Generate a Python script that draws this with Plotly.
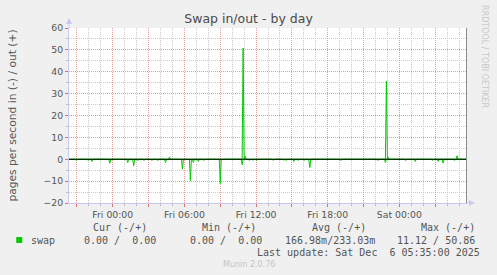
import plotly.graph_objects as go
import pandas as pd

# ---- data (5-minute samples, Munin "swap" day graph) ----
series_start = "2025-12-04 20:20"
n_samples = 400
# swap out (+) spikes: timestamp -> pages/s
out_times = ["2025-12-05 04:45", "2025-12-05 10:55", "2025-12-05 11:05",
             "2025-12-05 22:55", "2025-12-05 23:05", "2025-12-06 04:50"]
out_values = [1.0, 50.86, 1.5, 35.7, 1.0, 1.6]
# swap in (-) spikes: timestamp -> pages/s (plotted negative)
in_times = ["2025-12-04 20:55", "2025-12-04 21:55", "2025-12-04 22:15", "2025-12-04 23:45",
            "2025-12-05 01:15", "2025-12-05 01:45", "2025-12-05 02:05", "2025-12-05 02:35",
            "2025-12-05 03:15", "2025-12-05 03:45", "2025-12-05 04:25", "2025-12-05 05:50",
            "2025-12-05 06:30", "2025-12-05 06:45", "2025-12-05 07:10", "2025-12-05 07:35",
            "2025-12-05 09:00", "2025-12-05 10:50", "2025-12-05 11:25", "2025-12-05 11:45",
            "2025-12-05 12:00", "2025-12-05 13:25", "2025-12-05 14:20", "2025-12-05 14:30",
            "2025-12-05 15:10", "2025-12-05 15:30", "2025-12-05 16:00", "2025-12-05 16:30",
            "2025-12-05 19:05", "2025-12-05 20:35", "2025-12-05 21:00", "2025-12-05 22:10",
            "2025-12-05 22:50", "2025-12-06 00:30", "2025-12-06 01:20", "2025-12-06 02:45",
            "2025-12-06 03:15", "2025-12-06 03:40", "2025-12-06 04:35"]
in_values = [0.5, 0.5, 1.0, 1.8, 1.5, 3.0, 0.5, 0.5, 0.5, 0.5, 1.5, 4.5,
             9.8, 1.5, 1.0, 0.5, 11.12, 2.5, 0.5, 0.5, 0.5, 0.5, 0.5, 0.5,
             1.0, 0.5, 0.5, 3.8, 0.5, 0.3, 0.3, 0.5, 1.5, 0.5, 1.0, 0.5,
             1.0, 1.8, 0.5]

tick_vals = ["2025-12-04 21:00", "2025-12-05 00:00", "2025-12-05 03:00", "2025-12-05 06:00",
             "2025-12-05 09:00", "2025-12-05 12:00", "2025-12-05 15:00", "2025-12-05 18:00",
             "2025-12-05 21:00", "2025-12-06 00:00", "2025-12-06 03:00"]
tick_text = ["", "Fri 00:00", "", "Fri 06:00", "", "Fri 12:00", "", "Fri 18:00", "",
             "Sat 00:00", ""]
y_ticks = [-20, -10, 0, 10, 20, 30, 40, 50, 60]

legend_headers = ["Cur (-/+)", "Min (-/+)", "Avg (-/+)", "Max (-/+)"]
legend_values = ["0.00 /  0.00", "0.00 /  0.00", "166.98m/233.03m", "11.12 / 50.86"]

# ---- build series ----
idx = pd.date_range(series_start, periods=n_samples, freq="5min")
out_s = pd.Series(0.0, index=idx)
in_s = pd.Series(0.0, index=idx)
for t, v in zip(out_times, out_values):
    out_s[pd.Timestamp(t)] = v
for t, v in zip(in_times, in_values):
    in_s[pd.Timestamp(t)] = v

GREEN = "#00CC00"
fig = go.Figure()
fig.add_trace(go.Scatter(x=idx, y=-in_s.values, mode="lines",
                         line=dict(color=GREEN, width=1), hoverinfo="skip", showlegend=False))
fig.add_trace(go.Scatter(x=idx, y=out_s.values, mode="lines",
                         line=dict(color=GREEN, width=1), hoverinfo="skip", showlegend=False))

MAJ = "#E89A9A"
MIN = "#CACACA"
TXT = "#555555"
FONT = "DejaVu Sans"
MONO = "DejaVu Sans Mono"

fig.update_layout(
    width=497, height=275,
    margin=dict(l=67, r=30, t=28, b=72),
    paper_bgcolor="#F0F0F0", plot_bgcolor="#FFFFFF",
    font=dict(family=FONT, size=9.3, color=TXT),
    title=dict(text="Swap in/out - by day", x=0.5, xanchor="center", y=1 - 19 / 275,
               yanchor="middle", font=dict(family=FONT, size=12.5, color="#4A4A4A")),
    xaxis=dict(type="date", range=["2025-12-04 20:20", "2025-12-06 05:40"],
               tickmode="array", tickvals=tick_vals, ticktext=tick_text,
               showgrid=True, gridcolor=MAJ, griddash="1px,1px", gridwidth=1,
               ticks="outside", ticklen=3, tickcolor="#E07070",
               showline=True, linecolor="#C8C8F0", linewidth=1,
               zeroline=False, tickfont=dict(size=9.3, color=TXT),
               minor=dict(dtick=3600000, showgrid=True, gridcolor=MIN, griddash="1px,1px",
                          ticks="outside", ticklen=2, tickcolor="#BBBBBB"),
               fixedrange=True),
    yaxis=dict(range=[-20, 60], tickmode="array", tickvals=y_ticks,
               showgrid=True, gridcolor=MAJ, griddash="1px,1px", gridwidth=1,
               ticks="outside", ticklen=3, tickcolor="#E07070",
               showline=True, linecolor="#C8C8F0", linewidth=1,
               zeroline=False, tickfont=dict(size=9.3, color=TXT),
               minor=dict(dtick=5, showgrid=True, gridcolor=MIN, griddash="1px,1px",
                          ticks="outside", ticklen=2, tickcolor="#BBBBBB"),
               title=dict(text="pages per second in (-) / out (+)", standoff=24,
                          font=dict(family=FONT, size=10.7, color=TXT)),
               fixedrange=True),
)

# paper coordinate helpers (plot area 400x175 px)
def px(x):
    return (x - 67) / 400.0

def py(y):
    return (203 - y) / 175.0

shapes = []
# zero line
shapes.append(dict(type="line", xref="paper", yref="y", x0=0, x1=1, y0=0, y1=0,
                   line=dict(color="#000000", width=1), layer="above"))
# right border line
shapes.append(dict(type="line", xref="paper", yref="paper", x0=px(466.5), x1=px(466.5),
                   y0=0, y1=1, line=dict(color="#8C8C8C", width=1), layer="above"))
# axis extension + arrows
shapes.append(dict(type="line", xref="paper", yref="paper", x0=0, x1=0, y0=1, y1=py(22),
                   line=dict(color="#C8C8F0", width=1), layer="above"))
shapes.append(dict(type="path", xref="paper", yref="paper",
                   path=f"M {px(64)} {py(24)} L {px(70)} {py(24)} L {px(67)} {py(18)} Z",
                   fillcolor="#C8C8F0", line=dict(width=0), layer="above"))
shapes.append(dict(type="line", xref="paper", yref="paper", x0=1, x1=px(470), y0=0, y1=0,
                   line=dict(color="#C8C8F0", width=1), layer="above"))
shapes.append(dict(type="path", xref="paper", yref="paper",
                   path=f"M {px(469)} {py(200)} L {px(469)} {py(206)} L {px(475)} {py(203)} Z",
                   fillcolor="#C8C8F0", line=dict(width=0), layer="above"))
# legend colour square
shapes.append(dict(type="rect", xref="paper", yref="paper",
                   x0=px(14), x1=px(20), y0=py(243), y1=py(237),
                   fillcolor=GREEN, line=dict(width=0)))
fig.update_layout(shapes=shapes)

ann = []
def text(x, y, s, anchor="left", font=MONO, size=10, color=TXT, angle=0):
    ann.append(dict(xref="paper", yref="paper", x=px(x), y=py(y), text=s, showarrow=False,
                    xanchor=anchor, yanchor="middle", textangle=angle,
                    font=dict(family=font, size=size, color=color)))

header_right = [147, 257, 367, 477]
value_right = [156, 263, 377, 477]
for h, xr in zip(legend_headers, header_right):
    text(xr, 227, h, anchor="right")
text(27, 240, "swap")
for v, xr in zip(legend_values, value_right):
    text(xr, 240, v.replace(" ", "\u00a0"), anchor="right")
text(482, 252, "Last update: Sat Dec  6 05:35:00 2025".replace(" ", "\u00a0"), anchor="right")
text(248, 264, "Munin 2.0.76", anchor="center", font=FONT, size=8, color="#C4C4C4")
text(485, 57, "RRDTOOL / TOBI OETIKER", anchor="center", font=FONT, size=8,
     color="#C8C8C8", angle=90)
fig.update_layout(annotations=ann)

fig.write_html("out.html")
